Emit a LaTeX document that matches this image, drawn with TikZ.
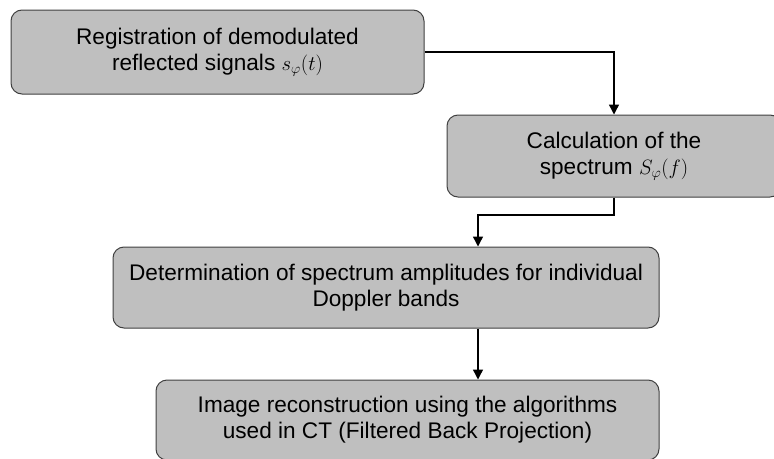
\documentclass[tikz,border=0pt]{standalone}
\usepackage{fontspec}
\setmainfont{Liberation Sans}
\usepackage{amsmath}
\usepackage{xcolor}
\usetikzlibrary{shapes,arrows.meta,positioning,calc}
\definecolor{boxgray}{RGB}{191,191,191}
\definecolor{edgegray}{RGB}{64,64,64}

\begin{document}
\begin{tikzpicture}[x=1pt,y=-1pt,
	stepbox/.style={draw=edgegray, line width=1pt, fill=boxgray, rounded corners=11pt,
		align=center, inner sep=0pt, font=\fontsize{22.6}{26}\selectfont},
	flow/.style={line width=1.4pt, -{Triangle[length=10pt,width=10pt]}}]
				% Page frame
				\useasboundingbox (0,0) rectangle (774,458);
				
				% Process steps
				\node[stepbox, minimum width=413pt, minimum height=84pt] (reg) at (217.5,52) {Registration of demodulated\\reflected signals $s_{\varphi}(t)$};
				\node[stepbox, minimum width=334pt, minimum height=82pt] (spec) at (614,156) {Calculation of the\\spectrum $S_{\varphi}(f)$};
				\node[stepbox, minimum width=546pt, minimum height=81pt] (ampl) at (386,287.5) {Determination of spectrum amplitudes for individual\\Doppler bands};
				\node[stepbox, minimum width=503pt, minimum height=80pt] (recon) at (407.5,420) {Image reconstruction using the algorithms\\used in CT (Filtered Back Projection)};
				
				% Bend point between step 2 and 3
				\coordinate (bend) at (478,215);
				
				% Connections
				\draw[flow] (reg.east) -| (spec.north);
				\draw[flow] (spec.south) |- (bend) -- (bend |- ampl.north);
				\draw[flow] (bend |- ampl.south) -- (bend |- recon.north);
			\end{tikzpicture}
\end{document}
